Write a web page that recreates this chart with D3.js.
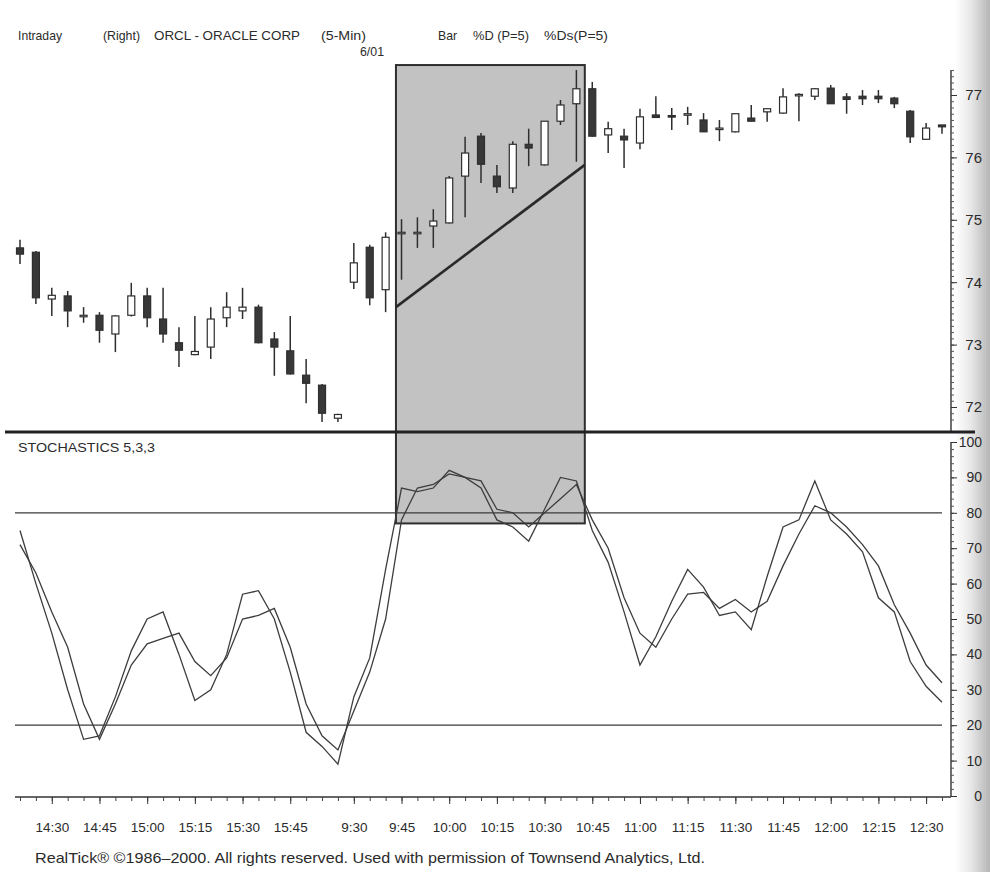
<!DOCTYPE html>
<html>
<head>
<meta charset="utf-8">
<script src="https://cdn.jsdelivr.net/npm/d3@7/dist/d3.min.js"></script>
<style>
  body { margin: 0; background: #fff; }
  svg { display: block; }
  text { font-family: "Liberation Sans", Arial, sans-serif; fill: #2b2b2b; }
</style>
</head>
<body>
<svg id="canvas" width="990" height="872"></svg>
<script>
// 5-min bars, 5/31 afternoon then 6/01 morning
var times = ["14:20","14:25","14:30","14:35","14:40","14:45","14:50","14:55","15:00","15:05",
    "15:10","15:15","15:20","15:25","15:30","15:35","15:40","15:45","15:50","15:55","16:00",
    "9:30","9:35","9:40","9:45","9:50","9:55","10:00","10:05","10:10","10:15","10:20","10:25",
    "10:30","10:35","10:40","10:45","10:50","10:55","11:00","11:05","11:10","11:15","11:20",
    "11:25","11:30","11:35","11:40","11:45","11:50","11:55","12:00","12:05","12:10","12:15",
    "12:20","12:25","12:30","12:35"];
var labelTimes = ["14:30","14:45","15:00","15:15","15:30","15:45","9:30","9:45","10:00","10:15",
    "10:30","10:45","11:00","11:15","11:30","11:45","12:00","12:15","12:30"];

var openPrices = [74.55,74.48,73.73,73.78,73.47,73.47,73.17,73.47,73.78,73.41,73.03,72.84,72.96,73.43,73.54,73.60,73.09,72.90,72.51,72.35,71.82,
    74.00,74.56,73.88,74.80,74.80,74.90,74.95,75.70,76.34,75.70,75.51,76.21,75.88,76.58,76.86,
    77.10,76.36,76.34,76.23,76.68,76.67,76.70,76.60,76.47,76.41,76.63,76.73,76.71,77.01,76.98,77.11,76.97,76.98,76.98,76.95,76.74,76.29,76.52];
var highPrices = [74.68,74.50,73.91,73.86,73.60,73.52,73.47,73.99,73.91,73.91,73.28,73.46,73.60,73.84,73.91,73.64,73.20,73.46,72.77,72.37,71.89,
    74.63,74.60,74.80,75.01,75.04,75.17,75.70,76.33,76.39,75.88,76.26,76.46,76.58,76.92,77.40,
    77.21,76.57,76.46,76.78,76.98,76.79,76.81,76.71,76.60,76.70,76.84,76.78,77.11,77.03,77.11,77.16,77.03,77.08,77.08,76.97,76.76,76.55,76.52];
var lowPrices = [74.29,73.65,73.46,73.28,73.35,73.03,72.88,73.45,73.28,73.03,72.64,72.83,72.77,73.28,73.41,73.02,72.50,72.52,72.06,71.76,71.76,
    73.89,73.63,73.52,74.04,74.55,74.55,74.94,75.04,75.59,75.43,75.43,75.86,75.87,76.52,75.93,
    76.33,76.07,75.83,76.13,76.64,76.44,76.52,76.41,76.26,76.40,76.58,76.57,76.70,76.58,76.92,76.86,76.70,76.84,76.87,76.79,76.23,76.29,76.38];
var closePrices = [74.45,73.75,73.79,73.54,73.47,73.23,73.46,73.78,73.43,73.17,72.91,72.89,73.41,73.60,73.60,73.03,72.96,72.53,72.38,71.90,71.88,
    74.31,73.75,74.72,74.80,74.80,74.98,75.67,76.07,75.89,75.53,76.21,76.15,76.58,76.84,77.10,
    76.34,76.46,76.28,76.65,76.64,76.66,76.70,76.41,76.47,76.70,76.58,76.78,76.97,77.01,77.10,76.86,76.93,76.94,76.94,76.86,76.33,76.47,76.49];

var pctD = [75,60,46,30,16,17,28,41,50,52,40,27,30,40,57,58,50,35,18,14,9,
    28,39,64,87,86,87,92,90,87,78,76,72,81,90,89,
    75,66,52,37,45,55,64,59,51,52,47,62,76,78,89,78,74,69,56,52,38,31,26.5];
var pctDs = [71,63,52,42,26,16,26,37,43,44.5,46,38,34,39,50,51,53,42,26,17,13,
    24,35,50,78,87,88,91,90,89,81,80,76,80,84,88,
    78,70,56,46,42,50,57,57.5,53,55.5,52,55,65,74,82,80,76,71,65,54,46,37,32];

var priceTicks = [72, 73, 74, 75, 76, 77];
var stochTicks = [0, 10, 20, 30, 40, 50, 60, 70, 80, 90, 100];
var stochLevels = [20, 80];

// highlighted window and its trend line
var boxFrom = "9:45", boxTo = "10:40";
var boxTopPrice = 77.48, boxBottomStoch = 77;
var trendPrices = [73.6, 75.88];

var svg = d3.select("#canvas");
var AXIS_X = 951;

var x = d3.scalePoint().domain(times).range([20, 942]);
var step = x.step();
var yPrice = d3.scaleLinear().domain([72, 77]).range([407, 95]);
var yStoch = d3.scaleLinear().domain([0, 100]).range([796, 442]);

// scanner shadow on the right edge
var defs = svg.append("defs");
var grad = defs.append("linearGradient").attr("id", "edge").attr("x1", 0).attr("x2", 1);
grad.append("stop").attr("offset", "0").attr("stop-color", "#ffffff");
grad.append("stop").attr("offset", "0.45").attr("stop-color", "#e8e8e8");
grad.append("stop").attr("offset", "1").attr("stop-color", "#b5b5b5");
svg.append("rect").attr("x", 955).attr("y", 0).attr("width", 35).attr("height", 872).attr("fill", "url(#edge)");

// highlight box
var boxLeft = x(boxFrom) - 0.35 * step;
var boxRight = x(boxTo) + 0.53 * step;
svg.append("rect")
    .attr("x", boxLeft)
    .attr("y", yPrice(boxTopPrice))
    .attr("width", boxRight - boxLeft)
    .attr("height", yStoch(boxBottomStoch) - yPrice(boxTopPrice))
    .attr("fill", "#c2c2c2")
    .attr("stroke", "#2e2e2e")
    .attr("stroke-width", 2);

// header
var header = svg.append("g").attr("font-size", "13px");
[["Intraday", 18, 40, 44], ["(Right)", 103, 40, 37], ["ORCL - ORACLE CORP", 154, 40, 146], ["(5-Min)", 321, 40, 45],
    ["6/01", 360, 56, 24], ["Bar", 438, 40, 19], ["%D (P=5)", 473, 40, 56], ["%Ds(P=5)", 544, 40, 64]]
    .forEach(function(t) {
        header.append("text").attr("x", t[1]).attr("y", t[2])
            .attr("textLength", t[3]).attr("lengthAdjust", "spacingAndGlyphs")
            .text(t[0]);
    });

// candles
var idx = d3.range(times.length);
var candles = svg.append("g").selectAll("g").data(idx).enter().append("g");
candles.append("line")
    .attr("x1", function(i) { return x(times[i]); })
    .attr("x2", function(i) { return x(times[i]); })
    .attr("y1", function(i) { return yPrice(highPrices[i]); })
    .attr("y2", function(i) { return yPrice(lowPrices[i]); })
    .attr("stroke", "#2e2e2e")
    .attr("stroke-width", 1.5);
candles.append("rect")
    .attr("x", function(i) { return x(times[i]) - 3.5; })
    .attr("width", 7)
    .attr("y", function(i) { return yPrice(Math.max(openPrices[i], closePrices[i])); })
    .attr("height", function(i) {
        return Math.max(1.5, Math.abs(yPrice(openPrices[i]) - yPrice(closePrices[i])));
    })
    .attr("fill", function(i) { return closePrices[i] < openPrices[i] ? "#383838" : "#fff"; })
    .attr("stroke", "#2e2e2e")
    .attr("stroke-width", 1.2);

// trend line
svg.append("line")
    .attr("x1", boxLeft).attr("y1", yPrice(trendPrices[0]))
    .attr("x2", boxRight).attr("y2", yPrice(trendPrices[1]))
    .attr("stroke", "#2a2a2a")
    .attr("stroke-width", 2.6);

// price axis
svg.append("line").attr("x1", AXIS_X).attr("x2", AXIS_X).attr("y1", 70).attr("y2", 432)
    .attr("stroke", "#333").attr("stroke-width", 1.4);
svg.append("g").attr("transform", "translate(" + AXIS_X + ",0)")
    .call(d3.axisRight(yPrice).tickValues(d3.range(71.8, 77.45, 0.1)).tickSize(3).tickFormat(""))
    .call(function(g) { g.select(".domain").remove(); g.selectAll("line").attr("stroke", "#555"); });
svg.append("g").attr("transform", "translate(" + AXIS_X + ",0)")
    .call(d3.axisRight(yPrice).tickValues(priceTicks).tickSize(6).tickFormat(d3.format("d")))
    .call(function(g) {
        g.select(".domain").remove();
        g.selectAll("line").attr("stroke", "#333");
        g.selectAll("text").attr("x", 31).attr("text-anchor", "end")
            .attr("font-size", "15px").attr("font-family", "Liberation Sans, Arial").attr("fill", "#2b2b2b");
    });

// divider between panes
svg.append("line").attr("x1", 5).attr("x2", 975).attr("y1", 432).attr("y2", 432)
    .attr("stroke", "#222").attr("stroke-width", 3);

// stochastics pane
svg.append("text").attr("x", 18).attr("y", 452).attr("font-size", "13.5px")
    .attr("textLength", 137).attr("lengthAdjust", "spacingAndGlyphs")
    .text("STOCHASTICS  5,3,3");

svg.append("g").selectAll("line").data(stochLevels).enter().append("line")
    .attr("x1", 15).attr("x2", 942)
    .attr("y1", function(d) { return yStoch(d); })
    .attr("y2", function(d) { return yStoch(d); })
    .attr("stroke", "#3a3a3a").attr("stroke-width", 1.3);

var stochLine = d3.line()
    .x(function(d, i) { return x(times[i]); })
    .y(function(d) { return yStoch(d); });
[pctD, pctDs].forEach(function(series) {
    svg.append("path")
        .datum(series)
        .attr("d", stochLine)
        .attr("fill", "none")
        .attr("stroke", "#3d3d3d")
        .attr("stroke-width", 1.3);
});

svg.append("line").attr("x1", AXIS_X).attr("x2", AXIS_X).attr("y1", 442).attr("y2", 797)
    .attr("stroke", "#333").attr("stroke-width", 1.4);
svg.append("g").attr("transform", "translate(" + AXIS_X + ",0)")
    .call(d3.axisRight(yStoch).tickValues(d3.range(0, 101, 2)).tickSize(3).tickFormat(""))
    .call(function(g) { g.select(".domain").remove(); g.selectAll("line").attr("stroke", "#555"); });
svg.append("g").attr("transform", "translate(" + AXIS_X + ",0)")
    .call(d3.axisRight(yStoch).tickValues(stochTicks).tickSize(6).tickFormat(d3.format("d")))
    .call(function(g) {
        g.select(".domain").remove();
        g.selectAll("line").attr("stroke", "#333");
        g.selectAll("text").attr("x", 31).attr("text-anchor", "end")
            .attr("font-size", "14px").attr("font-family", "Liberation Sans, Arial").attr("fill", "#2b2b2b");
    });

// time axis
svg.append("line").attr("x1", 15).attr("x2", AXIS_X).attr("y1", 797).attr("y2", 797)
    .attr("stroke", "#333").attr("stroke-width", 1.4);
svg.append("g").attr("transform", "translate(0,797)")
    .call(d3.axisBottom(x).tickValues(times).tickSize(4).tickFormat(""))
    .call(function(g) { g.select(".domain").remove(); g.selectAll("line").attr("stroke", "#444"); });
svg.append("g").attr("transform", "translate(0,797)")
    .call(d3.axisBottom(x).tickValues(labelTimes).tickSize(7).tickPadding(18))
    .call(function(g) {
        g.select(".domain").remove();
        g.selectAll("line").attr("stroke", "#333");
        g.selectAll("text").attr("font-size", "13.5px").attr("font-family", "Liberation Sans, Arial").attr("fill", "#2b2b2b");
    });

// credit line
svg.append("text").attr("x", 35).attr("y", 863).attr("font-size", "15px")
    .attr("textLength", 670).attr("lengthAdjust", "spacingAndGlyphs")
    .text("RealTick\u00ae \u00a91986\u20132000. All rights reserved. Used with permission of Townsend Analytics, Ltd.");
</script>
</body>
</html>
